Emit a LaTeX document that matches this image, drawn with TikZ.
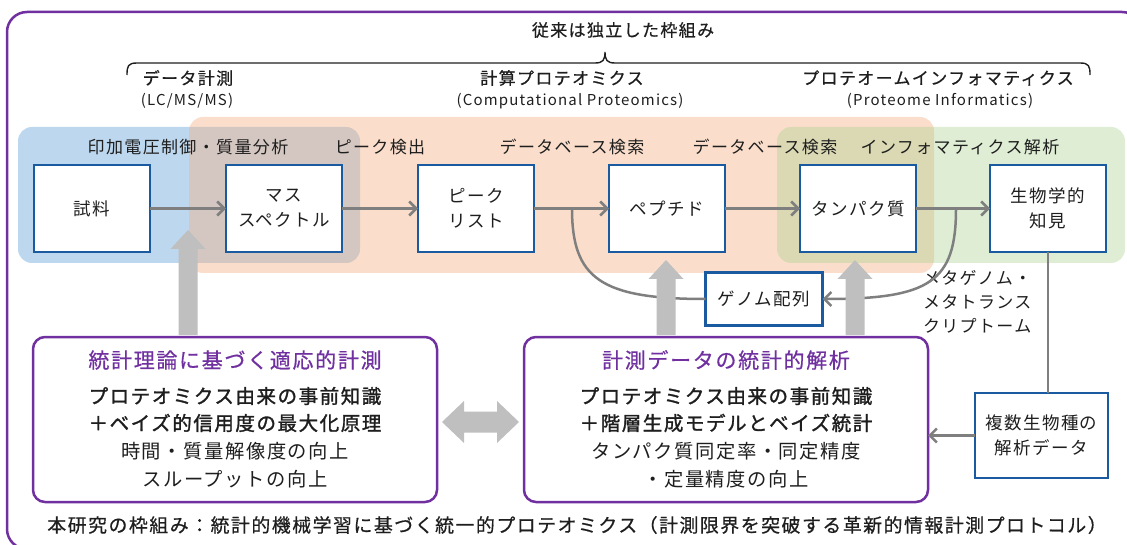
\documentclass[tikz,border=0pt]{standalone}
\usepackage{fontspec}
\setmainfont{Noto Sans CJK JP}[LetterSpace=8]
\newfontfamily\jpb{Noto Sans CJK JP}[LetterSpace=8,FakeBold=1.5]
\newfontfamily\jpm{Noto Sans CJK JP}[LetterSpace=8,FakeBold=0.6]
\usetikzlibrary{arrows.meta}
\definecolor{purp}{RGB}{112,48,160}
\definecolor{boxblue}{RGB}{25,90,160}
\definecolor{lgray}{RGB}{127,127,127}
\definecolor{blockgray}{RGB}{191,191,191}
\definecolor{blueR}{RGB}{189,215,238}
\definecolor{orangeR}{RGB}{244,177,131}
\definecolor{greenR}{RGB}{169,209,142}
\definecolor{txt}{RGB}{30,30,30}
\newcommand\blockup[3]{\fill[blockgray] (#1-9.5,#2) -- (#1-9.5,#3+19) -- (#1-17.5,#3+19) -- (#1,#3) -- (#1+17.5,#3+19) -- (#1+9.5,#3+19) -- (#1+9.5,#2) -- cycle;}
\tikzset{
  every node/.style={inner sep=0pt, outer sep=0pt, text=txt},
  stepbox/.style={draw=boxblue, line width=2.5pt, fill=white, minimum width=116pt, minimum height=87pt, align=center, font=\fontsize{17.5}{25}\selectfont},
  smallbox/.style={draw=boxblue, line width=2.5pt, fill=white, align=center, font=\fontsize{17.5}{25}\selectfont},
  pbox/.style={draw=purp, line width=2.5pt, rounded corners=12pt, minimum width=404pt, minimum height=165pt},
  lbl/.style={font=\fontsize{17}{20}\selectfont},
  hdr/.style={font=\jpm\fontsize{17}{20}\selectfont},
  sub/.style={font=\fontsize{15}{18}\selectfont},
  ptitle/.style={font=\jpm\fontsize{21}{24}\selectfont, text=purp},
  pbold/.style={font=\jpb\fontsize{19.5}{22}\selectfont},
  pbody/.style={font=\fontsize{19.3}{22}\selectfont},
  gline/.style={draw=lgray, line width=2.5pt},
  arr/.style={gline, -{Straight Barb[length=7pt,width=14pt]}},
}
\begin{document}
\begin{tikzpicture}[x=1pt,y=-1pt]
\useasboundingbox (0,0) rectangle (1127,545);
\clip (0,0) rectangle (1127,545);
% background regions
\fill[blueR, rounded corners=14pt] (18,127) rectangle (360,263);
\fill[orangeR, opacity=.42, rounded corners=14pt] (189,117) rectangle (934,273);
\fill[greenR, opacity=.38, rounded corners=14pt] (777,127) rectangle (1125,263);
% outer frame
\draw[purp, line width=2.5pt, rounded corners=20pt] (7,12) rectangle (1142,549);
% title and brace
\node[hdr] (title) at (623,30) {従来は独立した枠組み};
\draw[line width=1.4pt, txt] (127,75) .. controls (127,66) and (128,63) .. (137,63) -- (595,63) .. controls (603,63) and (605,60) .. (605,52) .. controls (605,60) and (607,63) .. (615,63) -- (1080,63) .. controls (1089,63) and (1090,66) .. (1090,75);
% headers
\node[hdr] (h1) at (188,78) {データ計測};
\node[sub] (h1s) at (187,101) {(LC/MS/MS)};
\node[hdr] (h2) at (562,78) {計算プロテオミクス};
\node[sub] (h2s) at (570,101) {(Computational Proteomics)};
\node[hdr] (h3) at (938,78) {プロテオームインフォマティクス};
\node[sub] (h3s) at (940,101) {(Proteome Informatics)};
% step labels
\node[lbl] (l1) at (188,147) {印加電圧制御・質量分析};
\node[lbl] (l2) at (380,147) {ピーク検出};
\node[lbl] (l3) at (572,147) {データベース検索};
\node[lbl] (l4) at (765,147) {データベース検索};
\node[lbl] (l5) at (960,147) {インフォマティクス解析};
% step boxes
\node[stepbox] (s1) at (92,208.5) {試料};
\node[stepbox] (s2) at (284,208.5) {マス\\スペクトル};
\node[stepbox] (s3) at (476,208.5) {ピーク\\リスト};
\node[stepbox] (s4) at (667,208.5) {ペプチド};
\node[stepbox] (s5) at (858,208.5) {タンパク質};
\node[stepbox] (s6) at (1048,208.5) {生物学的\\知見};
\node[smallbox, minimum width=117pt, minimum height=53pt] (gen) at (764,299) {ゲノム配列};
\node[smallbox, minimum width=133pt, minimum height=85pt] (mult) at (1041.5,435.5) {複数生物種の\\解析データ};
\node[lbl, anchor=west, align=left, font=\fontsize{17}{24}\selectfont] (meta) at (923,302) {メタゲノム・\\メタトランス\\クリプトーム};
% purple boxes
\node[pbox] (lb) at (235,419.5) {};
\node[pbox] (rb) at (726,419.5) {};
\node[ptitle] (lt) at (235,360) {統計理論に基づく適応的計測};
\node[pbold] (l2a) at (235,396) {プロテオミクス由来の事前知識};
\node[pbold] (l2b) at (235,423) {＋ベイズ的信用度の最大化原理};
\node[pbody] (l2c) at (235,451) {時間・質量解像度の向上};
\node[pbody] (l2d) at (235,479) {スループットの向上};
\node[ptitle] (rt) at (726,360) {計測データの統計的解析};
\node[pbold] (r2a) at (726,396) {プロテオミクス由来の事前知識};
\node[pbold] (r2b) at (726,423) {＋階層生成モデルとベイズ統計};
\node[pbody] (r2c) at (726,451) {タンパク質同定率・同定精度};
\node[pbody] (r2d) at (726,479) {・定量精度の向上};
% bottom text
\node[font=\jpm\fontsize{18.9}{22}\selectfont] (bottom) at (577,525) {本研究の枠組み：統計的機械学習に基づく統一的プロテオミクス（計測限界を突破する革新的情報計測プロトコル）};
% connectors
\coordinate (jl) at (572,208.5);
\coordinate (jr) at (956,208.5);
\draw[arr] (s1) -- (s2);
\draw[arr] (s2) -- (s3);
\draw[arr] (s3) -- (s4);
\draw[arr] (s4) -- (s5);
\draw[arr] (s5) -- (s6);
\draw[gline] (jl) .. controls (572,278) and (600,299) .. (gen.west);
\draw[arr] (jr) .. controls (956,282) and (930,299) .. (gen.east);
\draw[gline] (s6.south) -- (s6.south |- mult.north);
\draw[arr] (mult.west) -- (mult.west -| rb.east);
% block arrows
\blockup{188}{335}{230}
\blockup{666}{335}{260}
\blockup{855}{335}{260}
\fill[blockgray] (442,422) -- (464,401) -- (464,411.5) -- (497,411.5) -- (497,401) -- (519,422) -- (497,443) -- (497,432.5) -- (464,432.5) -- (464,443) -- cycle;
\end{tikzpicture}
\end{document}
